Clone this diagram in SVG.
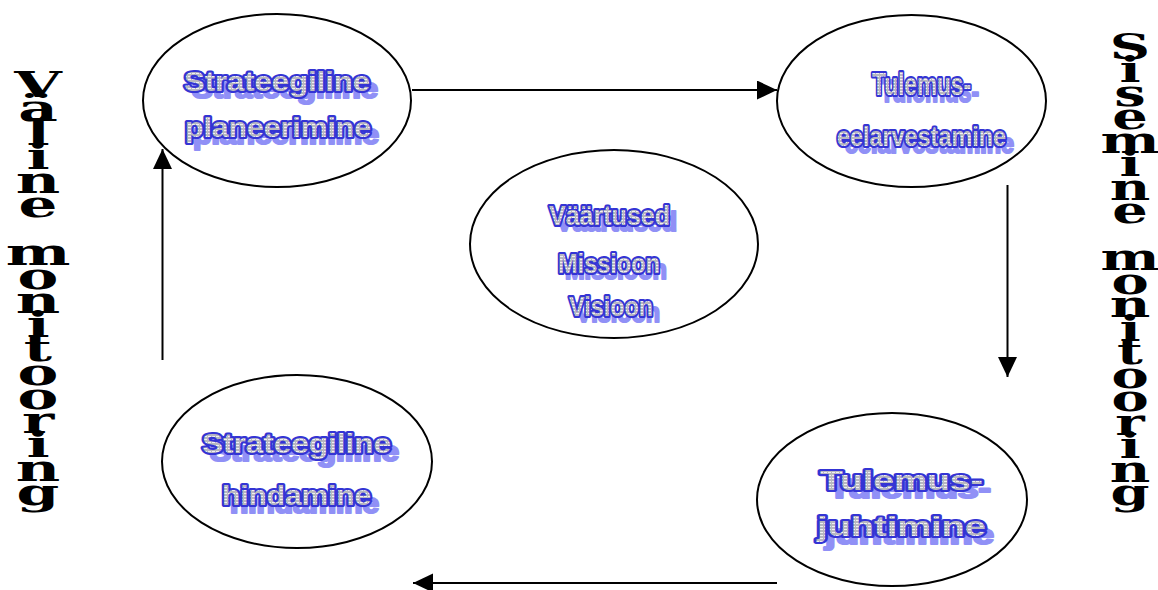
<svg xmlns="http://www.w3.org/2000/svg" width="1158" height="590" viewBox="0 0 1158 590">
  <style>
    .node { fill: #ffffff; stroke: #000000; stroke-width: 2; }
    .wa { font-family: "Liberation Sans", Arial, sans-serif; font-weight: bold; font-size: 27px; stroke-linejoin: round; paint-order: stroke fill; }
    .main { fill: url(#stripe); stroke: #3434d4; stroke-width: 4.2; }
    .sh { fill: #9090f6; stroke: #9090f6; stroke-width: 2.2; }
    .edge { stroke: #000000; stroke-width: 2; fill: none; marker-end: url(#arrow); }
    .side { font-family: "DejaVu Serif", "Liberation Serif", serif; font-weight: bold; font-size: 36px; fill: #000000; text-anchor: middle; }
  </style>
  <defs>
    <!-- grey fill with thin white horizontal lines -->
    <pattern id="stripe" patternUnits="userSpaceOnUse" width="4" height="3">
      <rect width="4" height="3" fill="#b8b8c0"/>
      <rect y="1" width="3" height="0.8" fill="#ffffff"/>
    </pattern>
    <marker id="arrow" markerUnits="userSpaceOnUse" markerWidth="20" markerHeight="20" refX="20" refY="9.5" orient="auto">
      <path d="M0,0 L20,9.5 L0,19 Z" fill="#000000"/>
    </marker>
  </defs>

  <rect width="1158" height="590" fill="#ffffff"/>

  <!-- cycle connectors -->
  <g id="connectors">
    <line class="edge" x1="412" y1="90" x2="777" y2="90"/>
    <line class="edge" x1="1007.5" y1="185" x2="1007.5" y2="377"/>
    <line class="edge" x1="777" y1="583" x2="413" y2="583"/>
    <line class="edge" x1="162.5" y1="360" x2="162.5" y2="149"/>
  </g>

  <g id="strateegiline-planeerimine">
    <ellipse class="node" cx="277" cy="100.5" rx="134" ry="86.5"/>
    <g class="wa sh" transform="translate(8,7)">
      <text x="184" y="91" textLength="186" lengthAdjust="spacingAndGlyphs">Strateegiline</text>
      <text x="185" y="137" textLength="186" lengthAdjust="spacingAndGlyphs">planeerimine</text>
    </g>
    <g class="wa main">
      <text x="184" y="91" textLength="186" lengthAdjust="spacingAndGlyphs">Strateegiline</text>
      <text x="185" y="137" textLength="186" lengthAdjust="spacingAndGlyphs">planeerimine</text>
    </g>
  </g>

  <g id="tulemus-eelarvestamine">
    <ellipse class="node" cx="911.5" cy="101" rx="134.5" ry="86"/>
    <g class="wa sh" transform="translate(8,7)">
      <text x="872" y="95" font-size="32" textLength="99" lengthAdjust="spacingAndGlyphs">Tulemus-</text>
      <text x="837" y="146" textLength="169" lengthAdjust="spacingAndGlyphs">eelarvestamine</text>
    </g>
    <g class="wa main">
      <text x="872" y="95" font-size="32" textLength="99" lengthAdjust="spacingAndGlyphs">Tulemus-</text>
      <text x="837" y="146" textLength="169" lengthAdjust="spacingAndGlyphs">eelarvestamine</text>
    </g>
  </g>

  <g id="vaartused">
    <ellipse class="node" cx="614" cy="244" rx="144" ry="94"/>
    <g class="wa sh" transform="translate(7,6)">
      <text x="549" y="225" textLength="121" lengthAdjust="spacingAndGlyphs">Väärtused</text>
      <text x="558" y="273" textLength="102" lengthAdjust="spacingAndGlyphs">Missioon</text>
      <text x="569" y="316" textLength="84" lengthAdjust="spacingAndGlyphs">Visioon</text>
    </g>
    <g class="wa main">
      <text x="549" y="225" textLength="121" lengthAdjust="spacingAndGlyphs">Väärtused</text>
      <text x="558" y="273" textLength="102" lengthAdjust="spacingAndGlyphs">Missioon</text>
      <text x="569" y="316" textLength="84" lengthAdjust="spacingAndGlyphs">Visioon</text>
    </g>
  </g>

  <g id="strateegiline-hindamine">
    <ellipse class="node" cx="297" cy="461.5" rx="135" ry="86.5"/>
    <g class="wa sh" transform="translate(8,8)">
      <text x="202" y="453" textLength="189" lengthAdjust="spacingAndGlyphs">Strateegiline</text>
      <text x="222" y="505" textLength="149" lengthAdjust="spacingAndGlyphs">hindamine</text>
    </g>
    <g class="wa main">
      <text x="202" y="453" textLength="189" lengthAdjust="spacingAndGlyphs">Strateegiline</text>
      <text x="222" y="505" textLength="149" lengthAdjust="spacingAndGlyphs">hindamine</text>
    </g>
  </g>

  <g id="tulemus-juhtimine">
    <ellipse class="node" cx="892" cy="499.5" rx="135" ry="86.5"/>
    <g class="wa sh" transform="translate(8,8)">
      <text x="820" y="490" textLength="163" lengthAdjust="spacingAndGlyphs">Tulemus-</text>
      <text x="817" y="536" textLength="169" lengthAdjust="spacingAndGlyphs">juhtimine</text>
    </g>
    <g class="wa main">
      <text x="820" y="490" textLength="163" lengthAdjust="spacingAndGlyphs">Tulemus-</text>
      <text x="817" y="536" textLength="169" lengthAdjust="spacingAndGlyphs">juhtimine</text>
    </g>
  </g>

  <!-- left side caption, one letter per line, stretched wide -->
  <g id="valine-monitooring" class="side" transform="translate(38,0) scale(1.7,1)">
    <text x="0" y="97">V</text>
    <text x="0" y="121">ä</text>
    <text x="0" y="145">l</text>
    <text x="0" y="169">i</text>
    <text x="0" y="193">n</text>
    <text x="0" y="217">e</text>
    <text x="0" y="265">m</text>
    <text x="0" y="289">o</text>
    <text x="0" y="313">n</text>
    <text x="0" y="337">i</text>
    <text x="0" y="361">t</text>
    <text x="0" y="385">o</text>
    <text x="0" y="409">o</text>
    <text x="0" y="433">r</text>
    <text x="0" y="457">i</text>
    <text x="0" y="481">n</text>
    <text x="0" y="505">g</text>
  </g>

  <!-- right side caption -->
  <g id="sisemine-monitooring" class="side" transform="translate(1130,0) scale(1.55,1)">
    <text x="0" y="59">S</text>
    <text x="0" y="82.5">i</text>
    <text x="0" y="106">s</text>
    <text x="0" y="129.5">e</text>
    <text x="0" y="153">m</text>
    <text x="0" y="176.5">i</text>
    <text x="0" y="200">n</text>
    <text x="0" y="223.5">e</text>
    <text x="0" y="270.5">m</text>
    <text x="0" y="294">o</text>
    <text x="0" y="317.5">n</text>
    <text x="0" y="341">i</text>
    <text x="0" y="364.5">t</text>
    <text x="0" y="388">o</text>
    <text x="0" y="411.5">o</text>
    <text x="0" y="435">r</text>
    <text x="0" y="458.5">i</text>
    <text x="0" y="482">n</text>
    <text x="0" y="505.5">g</text>
  </g>
</svg>
